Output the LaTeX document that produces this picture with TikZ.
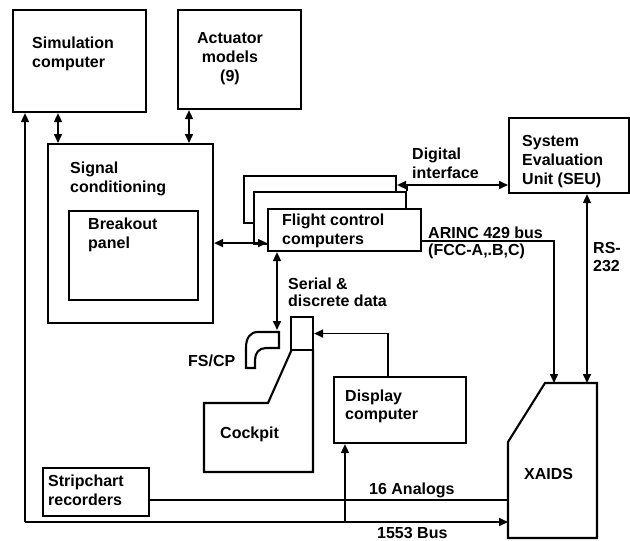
\documentclass[tikz,border=0pt]{standalone}
\usepackage{fontspec}
\setmainfont{Liberation Sans}
\usetikzlibrary{arrows.meta,positioning,calc}
\tikzset{
  fc/box/.style={draw, line width=2.1pt, fill=white, inner sep=0pt, anchor=north west},
  fc/outline/.style={draw, line width=2.1pt, line join=miter},
  fc/link/.style={line width=1.6pt},
  fc/text/.style={font=\bfseries\fontsize{16}{19}\selectfont, inner sep=0pt, anchor=north west, align=left},
  >={Triangle[length=9pt,width=8pt]}
}
\begin{document}
\begin{tikzpicture}[x=1pt, y=-1pt]
  \useasboundingbox (0,0) rectangle (630,541);

  % boxes
  \node[fc/box, minimum width=133pt, minimum height=102pt] (sim) at (12,9) {};
  \node[fc/box, minimum width=123pt, minimum height=99pt] (act) at (177,9) {};
  \node[fc/box, minimum width=165pt, minimum height=179pt] (sigc) at (47,143) {};
  \node[fc/box, minimum width=129pt, minimum height=89pt] (brk) at (68,210) {};
  \node[fc/box, minimum width=152pt, minimum height=47pt] (fccc) at (243,175) {};
  \node[fc/box, minimum width=152pt, minimum height=52pt] (fccb) at (253,191) {};
  \node[fc/box, minimum width=153pt, minimum height=42pt] (fcc) at (267,208) {};
  \node[fc/box, minimum width=120pt, minimum height=75pt] (seu) at (508,117) {};
  \node[fc/box, minimum width=132pt, minimum height=66pt] (disp) at (333,376) {};
  \node[fc/box, minimum width=106pt, minimum height=48pt] (strip) at (42,467) {};

  % cockpit, FS/CP and XAIDS outlines
  \coordinate (ckl) at (292,349);
  \coordinate (ckr) at (313,349);
  \draw[fc/outline] (ckl) -- (268,403) -- (204,403) -- (204,472) -- (313,472) -- (ckr);
  \node[fc/box, minimum width=22pt, minimum height=33pt] (panel) at (290,316) {};
  \coordinate (fstop) at (277,330);
  \draw[fc/outline] (279,332) -- (258,332) .. controls (250,332) and (246,338) .. (246,348)
    -- (246,368) -- (255,368) -- (255,360) .. controls (255,353) and (259,348) .. (266,348)
    -- (279,348) -- cycle;
  \coordinate (xnw) at (545,383);
  \coordinate (xne) at (597,383);
  \coordinate (xmid) at (508,442);
  \draw[fc/outline] (xnw) -- (xne) -- (597,538) -- (508,538) -- (xmid) -- cycle;

  % texts
  \node[fc/text] (simt) at (32,37) {Simulation\\computer};
  \node[fc/text, anchor=north, align=center] (actt) at (230,32) {Actuator\\models\\(9)};
  \node[fc/text] (sigct) at (70,162) {Signal\\conditioning};
  \node[fc/text] (brkt) at (88,218) {Breakout\\panel};
  \node[fc/text] (fcct) at (282,214) {Flight control\\computers};
  \node[fc/text] (digt) at (412,148) {Digital\\interface};
  \node[fc/text] (seut) at (522,135) {System\\Evaluation\\Unit (SEU)};
  \node[fc/text] (arinct) at (428,227) {ARINC 429 bus\\[-2pt](FCC-A,.B,C)};
  \node[fc/text] (rst) at (593,242) {RS-\\[-1pt]232};
  \node[fc/text] (sert) at (288,278) {Serial \&\\[-2pt]discrete data};
  \node[fc/text] (fsct) at (188,355) {FS/CP};
  \node[fc/text] (dispt) at (345,390) {Display\\[-1pt]computer};
  \node[fc/text] (ckt) at (220,427) {Cockpit};
  \node[fc/text] (stript) at (48,475) {Stripchart\\recorders};
  \node[fc/text] (anat) at (369,483) {16 Analogs};
  \node[fc/text] (bust) at (377,527) {1553 Bus};
  \node[fc/text] (xaidst) at (524,468) {XAIDS};

  % connectors
  \coordinate (busl) at (25,522);
  \coordinate (dtap) at (345,522);
  \coordinate (xarinc) at (554,383);
  \coordinate (xrs) at (587,383);
  \coordinate (dij) at ([yshift=6pt]fccb.north east);
  \draw[fc/link, ->] (busl) -- (busl |- sim.south);
  \draw[fc/link, ->] (busl) -- (busl -| xmid);
  \draw[fc/link, ->] (dtap) -- (dtap |- disp.south);
  \draw[fc/link] ([yshift=-8pt]strip.east) -- ([yshift=-8pt]strip.east -| xmid);
  \draw[fc/link, <->] ([xshift=46pt]sim.south west) -- ([xshift=46pt]sim.south west |- sigc.north);
  \draw[fc/link, <->] ([xshift=12pt]act.south west) -- ([xshift=12pt]act.south west |- sigc.north);
  \draw[fc/link, <->] ([yshift=-13pt]fcc.west -| sigc.east) -- ([yshift=-13pt]fcc.west);
  \draw[fc/link, <->] (fstop |- fcc.south) -- (fstop);
  \draw[fc/link, <->] (dij -| fccc.east) -- (dij -| seu.west);
  \draw[fc/link] (fccb.north east) -- (dij);
  \draw[fc/link, ->] ([yshift=-11pt]fcc.east) -| (xarinc);
  \draw[fc/link, <->] (xrs |- seu.south) -- (xrs);
  \draw[fc/link, ->] ([xshift=55pt]disp.north west) |- (panel.east);
\end{tikzpicture}
\end{document}
